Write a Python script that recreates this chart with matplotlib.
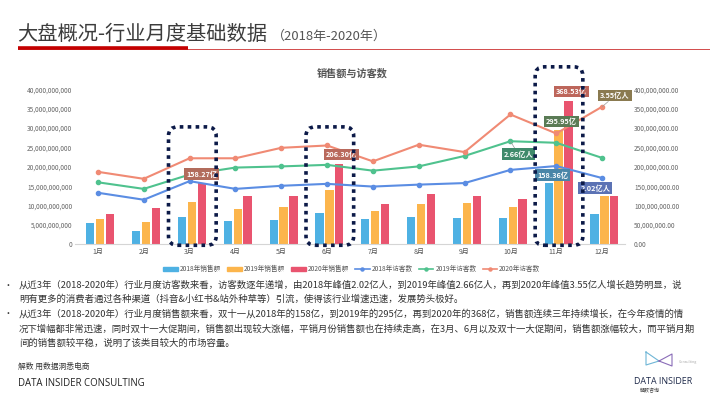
import numpy as np
import matplotlib
matplotlib.use('Agg')
import matplotlib.pyplot as plt
from matplotlib.patches import FancyBboxPatch, Patch
from matplotlib.lines import Line2D
from matplotlib.ticker import FuncFormatter

plt.rcParams['font.family'] = ['Noto Sans CJK SC', 'DejaVu Sans']

# data
months = ['1月', '2月', '3月', '4月', '5月', '6月', '7月', '8月', '9月', '10月', '11月', '12月']
sales_2018 = [5.45e9, 3.45e9, 7.15e9, 5.95e9, 6.4e9, 8.1e9, 6.5e9, 7.0e9, 6.9e9, 6.75e9, 15.836e9, 7.7e9]
sales_2019 = [6.55e9, 5.85e9, 11.0e9, 9.1e9, 9.65e9, 14.0e9, 8.55e9, 10.45e9, 10.7e9, 9.5e9, 29.595e9, 12.55e9]
sales_2020 = [7.85e9, 9.45e9, 15.827e9, 12.4e9, 12.4e9, 20.63e9, 10.45e9, 12.95e9, 12.45e9, 11.75e9, 36.853e9, 12.35e9]
visit_2018 = [133e6, 115e6, 163e6, 143e6, 151e6, 156e6, 149e6, 154e6, 158e6, 192e6, 202e6, 171e6]
visit_2019 = [160e6, 143e6, 180e6, 198e6, 201e6, 205e6, 190e6, 201e6, 228e6, 266e6, 262e6, 223e6]
visit_2020 = [187e6, 169e6, 222e6, 222e6, 249e6, 255e6, 214e6, 257e6, 238e6, 335e6, 286e6, 355e6]

bar_colors = ['#4eb1e3', '#fcb54c', '#e9546f']
line_colors = ['#5b8de3', '#4fc28e', '#f08a74']
bar_names = ['2018年销售额', '2019年销售额', '2020年销售额']
line_names = ['2018年访客数', '2019年访客数', '2020年访客数']

W, H = 710, 399


def px(x, y):
    return x / W, 1 - y / H


fig = plt.figure(figsize=(7.1, 3.99), dpi=100)
fig.patch.set_facecolor('white')

ax = fig.add_axes([75 / W, 1 - 244.3 / H, 550 / W, 155 / H])
ax2 = ax.twinx()

x = np.arange(len(months))
bw, off = 0.18, 0.215
for k, s in enumerate([sales_2018, sales_2019, sales_2020]):
    ax.bar(x + (k - 1) * off + 0.05, s, width=bw, color=bar_colors[k], zorder=2)

for k, v in enumerate([visit_2018, visit_2019, visit_2020]):
    ax2.plot(x, v, color=line_colors[k], lw=1.5, marker='o', ms=3, zorder=3)

ax.set_xlim(-0.5, 11.5)
ax.set_ylim(0, 40e9)
ax2.set_ylim(0, 400e6)
ax.set_yticks(np.arange(0, 40e9 + 1, 5e9))
ax2.set_yticks(np.arange(0, 400e6 + 1, 50e6))
ax.yaxis.set_major_formatter(FuncFormatter(lambda v, p: f'{v:,.0f}'))
ax2.yaxis.set_major_formatter(FuncFormatter(lambda v, p: f'{v:,.2f}'))
ax.set_xticks(x)
ax.set_xticklabels(months)
ax.tick_params(axis='y', length=0, labelsize=4.7, labelcolor='#666666', pad=2)
ax.tick_params(axis='x', length=0, labelsize=5, labelcolor='#555555', pad=3)
ax2.tick_params(axis='y', length=0, labelsize=4.7, labelcolor='#666666', pad=6.5)
for a in (ax, ax2):
    for s in ['top', 'left', 'right']:
        a.spines[s].set_visible(False)
ax.spines['bottom'].set_color('#d5d5d5')
ax2.spines['bottom'].set_visible(False)


# value labels
def tag(xv, yv, trans, text, color, dx, dy, leader=False):
    kw = {}
    if leader:
        kw['arrowprops'] = dict(arrowstyle='-', color='#999999', lw=0.5, shrinkA=0, shrinkB=0)
    ax2.annotate(text, xy=(xv, yv), xycoords=trans, xytext=(dx, -dy),
                 textcoords='offset pixels', ha='center', va='center',
                 fontsize=5.2, color='white', fontweight='bold', zorder=5,
                 bbox=dict(boxstyle='square,pad=0.28', fc=color, ec='none'), **kw)


tag(2 + off + 0.05, sales_2020[2], ax.transData, '158.27亿', '#b26c5c', 0, -9)
tag(5 + off + 0.05, sales_2020[5], ax.transData, '206.30亿', '#b9695c', 2, -10)
tag(10 - off + 0.05, sales_2018[10], ax.transData, '158.36亿', '#4a86a8', 4, -8)
tag(10 + 0.05, sales_2019[10], ax.transData, '295.95亿', '#5a7b55', 3, -8)
tag(10 + off + 0.05, sales_2020[10], ax.transData, '368.53亿', '#bd665b', 3, -10)
tag(9, visit_2019[9], ax2.transData, '2.66亿人', '#3f8a6b', 8, 13, leader=True)
tag(10, visit_2018[10], ax2.transData, '2.02亿人', '#5b72b4', 39, 22)
tag(11, visit_2020[11], ax2.transData, '3.55亿人', '#8a7a50', 13, -11, leader=True)

# dotted highlight boxes
aspect = 2.3e9 / 0.2
for i, top in [(2, 30.3e9), (5, 30.3e9), (10, 45.8e9)]:
    box = FancyBboxPatch((i - 0.46, -0.25e9), 1.04, top + 0.25e9,
                         boxstyle='round,pad=0,rounding_size=0.2', mutation_aspect=aspect,
                         transform=ax.transData, fill=False, ec='#0c1a48', lw=2.6,
                         ls=(0, (1, 1.2)), clip_on=False, zorder=6)
    ax2.add_patch(box)

# legend
handles = [Patch(color=c) for c in bar_colors] + \
          [Line2D([], [], color=c, lw=1.2, marker='o', ms=2.2) for c in line_colors]
fig.legend(handles, bar_names + line_names, loc='center', bbox_to_anchor=px(352, 269),
           ncol=6, fontsize=4.8, frameon=False, handlelength=2.2, handleheight=0.6,
           columnspacing=0.9, handletextpad=0.3, labelcolor='#555555')

# chart title
fig.text(*px(352, 73), '销售额与访客数', ha='center', va='center', fontsize=7.3,
         fontweight='bold', color='#555555')

# page header
fig.text(*px(17, 34), '大盘概况-行业月度基础数据', ha='left', va='center', fontsize=14.6,
         color='#3c3c3c')
fig.text(*px(272, 36), '（2018年-2020年）', ha='left', va='center', fontsize=9.4,
         color='#555555')
fig.add_artist(Line2D([18 / W, 710 / W], [1 - 48.5 / H] * 2, color='#d24a4a', lw=0.7))
fig.add_artist(Line2D([18 / W, 188 / W], [1 - 48.3 / H] * 2, color='#c40000', lw=2.6,
                      solid_capstyle='butt'))

# commentary
lines = [
    (285, True, '从近3年（2018-2020年）行业月度访客数来看，访客数逐年递增，由2018年峰值2.02亿人，到2019年峰值2.66亿人，再到2020年峰值3.55亿人增长趋势明显，说'),
    (299.5, False, '明有更多的消费者通过各种渠道（抖音&小红书&站外种草等）引流，使得该行业增速迅速，发展势头极好。'),
    (314, True, '从近3年（2018-2020年）行业月度销售额来看，双十一从2018年的158亿，到2019年的295亿，再到2020年的368亿，销售额连续三年持续增长，在今年疫情的情'),
    (328.5, False, '况下增幅都非常迅速，同时双十一大促期间，销售额出现较大涨幅，平销月份销售额也在持续走高，在3月、6月以及双十一大促期间，销售额涨幅较大，而平销月期'),
    (343, False, '间的销售额较平稳，说明了该类目较大的市场容量。'),
]
for y, bullet, t in lines:
    if bullet:
        fig.text(*px(8, y), '•', ha='center', va='center', fontsize=6.5, color='#333333')
    fig.text(*px(19, y), t, ha='left', va='center', fontsize=6.78, color='#333333')

# footer
fig.text(*px(18, 367), '解数 用数据洞悉电商', ha='left', va='center', fontsize=5.6, color='#333333')
fig.text(*px(18, 383), 'DATA INSIDER CONSULTING', ha='left', va='center', fontsize=6.9,
         color='#222222', family=['Open Sans', 'DejaVu Sans'])

# logo
logo_l = [(646, 352), (646, 365), (659, 361), (646, 352)]
logo_r = [(659, 361), (672, 354), (672, 366), (659, 361)]
for pts, c in [(logo_l, '#6fb6d6'), (logo_r, '#8a6cb8')]:
    fig.add_artist(Line2D([p[0] / W for p in pts], [1 - p[1] / H for p in pts], color=c, lw=0.8))
fig.text(*px(688, 362), 'Consulting', ha='center', va='center', fontsize=2.6, color='#aaaaaa')
fig.text(*px(663, 381), 'DATA INSIDER', ha='center', va='center', fontsize=6.4,
         color='#1f2a4a', family=['Open Sans', 'DejaVu Sans'])
fig.text(*px(650, 391), '解数咨询', ha='center', va='center', fontsize=3.6, color='#444444')

fig.savefig('out.png', dpi=100, facecolor='white')
